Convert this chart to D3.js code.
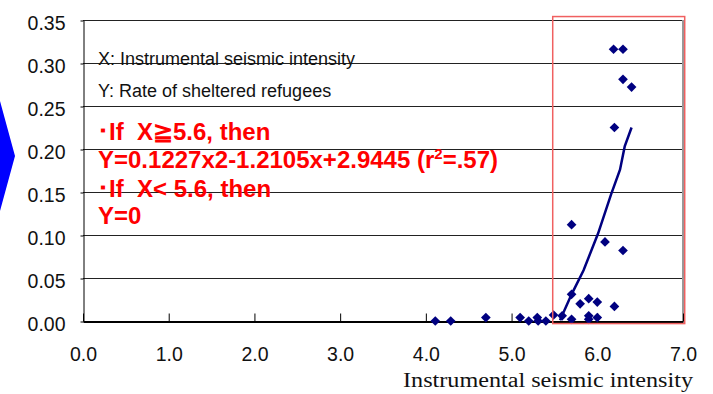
<!DOCTYPE html>
<html>
<head>
<meta charset="utf-8">
<script src="https://cdn.jsdelivr.net/npm/d3@7/dist/d3.min.js"></script>
<style>
  body { margin: 0; background: #fff; }
  svg { display: block; font-family: "Liberation Sans", Arial, sans-serif; }
</style>
</head>
<body>
<svg id="chart" width="713" height="394"></svg>
<script>
// Observed points (seismic intensity, rate of sheltered refugees)
const intensity = [4.11, 4.29, 4.70, 5.10, 5.20, 5.30, 5.31, 5.40, 5.49, 5.59,
                   5.70, 5.70, 5.70, 5.80, 5.90, 5.90, 5.90, 6.00, 6.00, 6.09,
                   6.20, 6.30, 6.19, 6.30, 6.30, 6.40, 6.20];
const refugeeRate = [0.000, 0.000, 0.004, 0.004, 0.000, 0.004, 0.000, 0.000, 0.007, 0.006,
                     0.002, 0.031, 0.112, 0.020, 0.026, 0.006, 0.002, 0.022, 0.004, 0.092,
                     0.017, 0.082, 0.316, 0.316, 0.281, 0.272, 0.225];

// Fitted curve
const fitX = [5.565, 5.70, 5.84, 6.01, 6.16, 6.265, 6.32, 6.40];
const fitY = [0.001, 0.031, 0.059, 0.102, 0.147, 0.176, 0.203, 0.225];

// Highlighted range (data units)
const boxX = [5.48, 7.02];
const boxY = [-0.003, 0.354];

const xTicks = [0, 1, 2, 3, 4, 5, 6, 7];
const yTicks = [0, 0.05, 0.10, 0.15, 0.20, 0.25, 0.30, 0.35];

const legendLines = ['X: Instrumental seismic intensity', 'Y: Rate of sheltered refugees'];
const xTitle = 'Instrumental seismic intensity';

const svg = d3.select('#chart');
const plotLeft = 83, plotRight = 683, plotTop = 20, plotBottom = 321;

const x = d3.scaleLinear().domain([0, 7]).range([plotLeft, plotRight]);
const y = d3.scaleLinear().domain([0, 0.35]).range([plotBottom, plotTop]);

// blue arrow on the left edge
svg.append('polygon')
   .attr('points', '0,101 15,156 0,211')
   .attr('fill', '#0000ff');

// gridlines
svg.append('g')
   .selectAll('line')
   .data(yTicks.slice(1))
   .enter()
   .append('line')
   .attr('x1', plotLeft)
   .attr('x2', plotRight)
   .attr('y1', d => Math.round(y(d)) + 0.5)
   .attr('y2', d => Math.round(y(d)) + 0.5)
   .attr('stroke', '#222')
   .attr('stroke-width', 1);

// y axis
const yAxis = svg.append('g')
   .attr('transform', 'translate(' + (plotLeft + 0.5) + ',0.5)')
   .call(d3.axisLeft(y).tickValues(yTicks).tickFormat(d3.format('.2f')).tickSize(3).tickSizeOuter(0));
yAxis.select('.domain').attr('stroke', '#000');
yAxis.selectAll('text')
     .attr('x', -18)
     .attr('dy', '0.45em')
     .style('font-size', '19.5px')
     .style('fill', '#111');

// right edge of plot area
svg.append('line')
   .attr('x1', plotRight).attr('x2', plotRight)
   .attr('y1', plotTop).attr('y2', plotBottom)
   .attr('stroke', '#999')
   .attr('stroke-width', 2);

// x axis (ticks point inward)
const xAxis = svg.append('g')
   .attr('transform', 'translate(0,' + (plotBottom + 0.5) + ')')
   .call(d3.axisTop(x).tickValues(xTicks).tickFormat(d3.format('.1f')).tickSize(8).tickSizeOuter(0));
xAxis.select('.domain').attr('stroke', '#000').attr('stroke-width', 2);
xAxis.selectAll('.tick line').attr('stroke', '#000');
xAxis.selectAll('text')
     .attr('y', 39)
     .attr('dy', 0)
     .style('font-size', '19.5px')
     .style('fill', '#111');

svg.append('text')
   .attr('x', 403)
   .attr('y', 387)
   .attr('textLength', 290)
   .attr('lengthAdjust', 'spacingAndGlyphs')
   .style('font-family', '"Liberation Serif", "Times New Roman", serif')
   .style('font-size', '20px')
   .style('fill', '#111')
   .text(xTitle);

// explanation text
svg.append('g')
   .selectAll('text')
   .data(legendLines)
   .enter()
   .append('text')
   .attr('x', 98)
   .attr('y', (d, i) => 65 + i * 32)
   .style('font-size', '18px')
   .style('fill', '#111')
   .text(d => d);

const red = svg.append('g')
   .style('fill', '#ff0000')
   .style('font-weight', 'bold')
   .style('font-size', '24px');

red.append('text')
   .attr('x', 97)
   .attr('y', 139.5)
   .text('･If\u00a0\u00a0X≧5.6, then');

const eq = red.append('text').attr('x', 98).attr('y', 168);
eq.append('tspan').text('Y=0.1227x2-1.2105x+2.9445 (r');
eq.append('tspan').attr('dy', -9).style('font-size', '15px').text('2');
eq.append('tspan').attr('dy', 9).text('=.57)');

red.append('text')
   .attr('x', 97)
   .attr('y', 196.5)
   .text('･If\u00a0\u00a0X< 5.6, then');

red.append('text').attr('x', 98).attr('y', 223.5).text('Y=0');

// fitted curve
const line = d3.line()
   .x((d, i) => x(fitX[i]))
   .y(d => y(d));

svg.append('path')
   .datum(fitY)
   .attr('d', line)
   .attr('fill', 'none')
   .attr('stroke', '#000080')
   .attr('stroke-width', 2.5);

// points
svg.append('g')
   .selectAll('path')
   .data(intensity)
   .enter()
   .append('path')
   .attr('d', d3.symbol().type(d3.symbolDiamond2).size(60))
   .attr('transform', (d, i) => 'translate(' + x(d) + ',' + y(refugeeRate[i]) + ')')
   .attr('fill', '#000080');

// highlight box
svg.append('rect')
   .attr('x', x(boxX[0]))
   .attr('y', y(boxY[1]))
   .attr('width', x(boxX[1]) - x(boxX[0]))
   .attr('height', y(boxY[0]) - y(boxY[1]))
   .attr('fill', 'none')
   .attr('stroke', '#f06060')
   .attr('stroke-width', 1.5);
</script>
</body>
</html>
